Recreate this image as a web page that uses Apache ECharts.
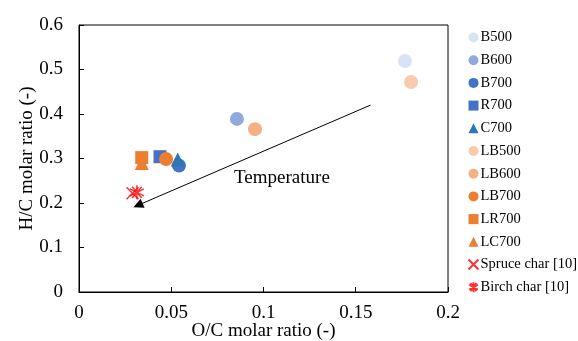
<!DOCTYPE html>
<html>
<head>
<meta charset="utf-8">
<script src="https://cdn.jsdelivr.net/npm/echarts@6/dist/echarts.min.js"></script>
<style>
  html, body { margin: 0; padding: 0; background: #fff; }
  #main { width: 578px; height: 341px; }
</style>
</head>
<body>
<div id="main"></div>
<script>
// data: [O/C, H/C]
var seriesNames = ['B500', 'B600', 'B700', 'R700', 'C700', 'LB500', 'LB600', 'LB700', 'LR700', 'LC700', 'Spruce char [10]', 'Birch char [10]'];
var B500 = [[0.1767, 0.519]];
var B600 = [[0.0856, 0.389]];
var B700 = [[0.0542, 0.284]];
var R700 = [[0.0439, 0.304]];
var C700 = [[0.0535, 0.298]];
var LB500 = [[0.1800, 0.472]];
var LB600 = [[0.0954, 0.366]];
var LB700 = [[0.0472, 0.299]];
var LR700 = [[0.0340, 0.302]];
var LC700 = [[0.0340, 0.290]];
var spruce = [[0.0290, 0.222]];
var birch = [[0.0314, 0.224]];
var arrowFrom = [0.158, 0.420];
var arrowTo = [0.032, 0.195];
var labelAt = [0.110, 0.256];

var xTicks = { min: 0, max: 0.2, interval: 0.05 };
var yTicks = { min: 0, max: 0.6, interval: 0.1 };

var font = 'Liberation Serif';

var myChart = echarts.init(document.getElementById('main'));

function pts(name, data, symbol, color, size) {
    return {
        name: name,
        type: 'scatter',
        data: data,
        symbol: symbol,
        symbolSize: size,
        itemStyle: { color: color, opacity: 1 }
    };
}

var asterisk = 'path://M0,-10L0,10M-8.7,-5L8.7,5M-8.7,5L8.7,-5M-6,-8L6,8M-6,8L6,-8';
var cross = 'path://M-8,-8L8,8M-8,8L8,-8';

var option = {
    animation: false,
    grid: {
        left: 79, right: 130, top: 25, bottom: 49,
        outerBoundsMode: 'none',
        containLabel: false,
        show: true, borderColor: '#000', borderWidth: 1
    },
    legend: {
        orient: 'vertical',
        left: 461,
        top: 25,
        itemWidth: 10,
        itemHeight: 10,
        itemGap: 7.7,
        data: seriesNames,
        textStyle: { fontFamily: font, fontSize: 14.5, lineHeight: 14, color: '#000', padding: [0, 0, 0, -3] }
    },
    xAxis: {
        type: 'value',
        min: xTicks.min, max: xTicks.max, interval: xTicks.interval,
        name: 'O/C molar ratio (-)',
        nameLocation: 'middle',
        nameGap: 30,
        nameMoveOverlap: false,
        nameTextStyle: { fontFamily: font, fontSize: 19, color: '#000' },
        axisLine: { lineStyle: { color: '#000' } },
        axisTick: { inside: true, length: 5, lineStyle: { color: '#000' } },
        axisLabel: { fontFamily: font, fontSize: 19, color: '#000', margin: 12 },
        splitLine: { show: false }
    },
    yAxis: {
        type: 'value',
        min: yTicks.min, max: yTicks.max, interval: yTicks.interval,
        name: 'H/C molar ratio (-)',
        nameLocation: 'middle',
        nameGap: 42,
        nameMoveOverlap: false,
        nameTextStyle: { fontFamily: font, fontSize: 19, color: '#000' },
        axisLine: { lineStyle: { color: '#000' } },
        axisTick: { inside: true, length: 5, lineStyle: { color: '#000' } },
        axisLabel: { fontFamily: font, fontSize: 19, color: '#000', margin: 16 },
        splitLine: { show: false }
    },
    series: [
        pts('B500', B500, 'circle', '#dae3f3', 14),
        pts('B600', B600, 'circle', '#8faadc', 14),
        pts('LC700', LC700, 'triangle', '#ed7d31', 14),
        pts('LR700', LR700, 'rect', '#ed7d31', 13),
        pts('B700', B700, 'circle', '#4472c4', 14),
        pts('C700', C700, 'triangle', '#2e75b6', 14),
        pts('R700', R700, 'rect', '#4472c4', 13),
        pts('LB500', LB500, 'circle', '#f8cbad', 14),
        pts('LB600', LB600, 'circle', '#f4b183', 14),
        pts('LB700', LB700, 'circle', '#ed7d31', 14),
        {
            name: 'Spruce char [10]', type: 'scatter', data: spruce,
            symbol: cross, symbolSize: 12,
            itemStyle: { color: 'none', borderColor: '#ff0000', borderWidth: 1.5 }
        },
        {
            name: 'Birch char [10]', type: 'scatter', data: birch,
            symbol: asterisk, symbolSize: 14,
            itemStyle: { color: 'none', borderColor: '#ff0000', borderWidth: 1.5 }
        },
        {
            name: 'arrow', type: 'scatter', data: [],
            markLine: {
                silent: true,
                symbol: ['none', 'triangle'],
                symbolSize: 10,
                lineStyle: { color: '#000', width: 1, type: 'solid' },
                label: { show: false },
                data: [[{ coord: arrowFrom }, { coord: arrowTo }]]
            },
            markPoint: {
                silent: true,
                symbolSize: 0,
                label: {
                    show: true, position: 'inside', formatter: 'Temperature',
                    fontFamily: font, fontSize: 19, color: '#000'
                },
                data: [{ coord: labelAt }]
            }
        }
    ]
};

myChart.setOption(option);
</script>
</body>
</html>
